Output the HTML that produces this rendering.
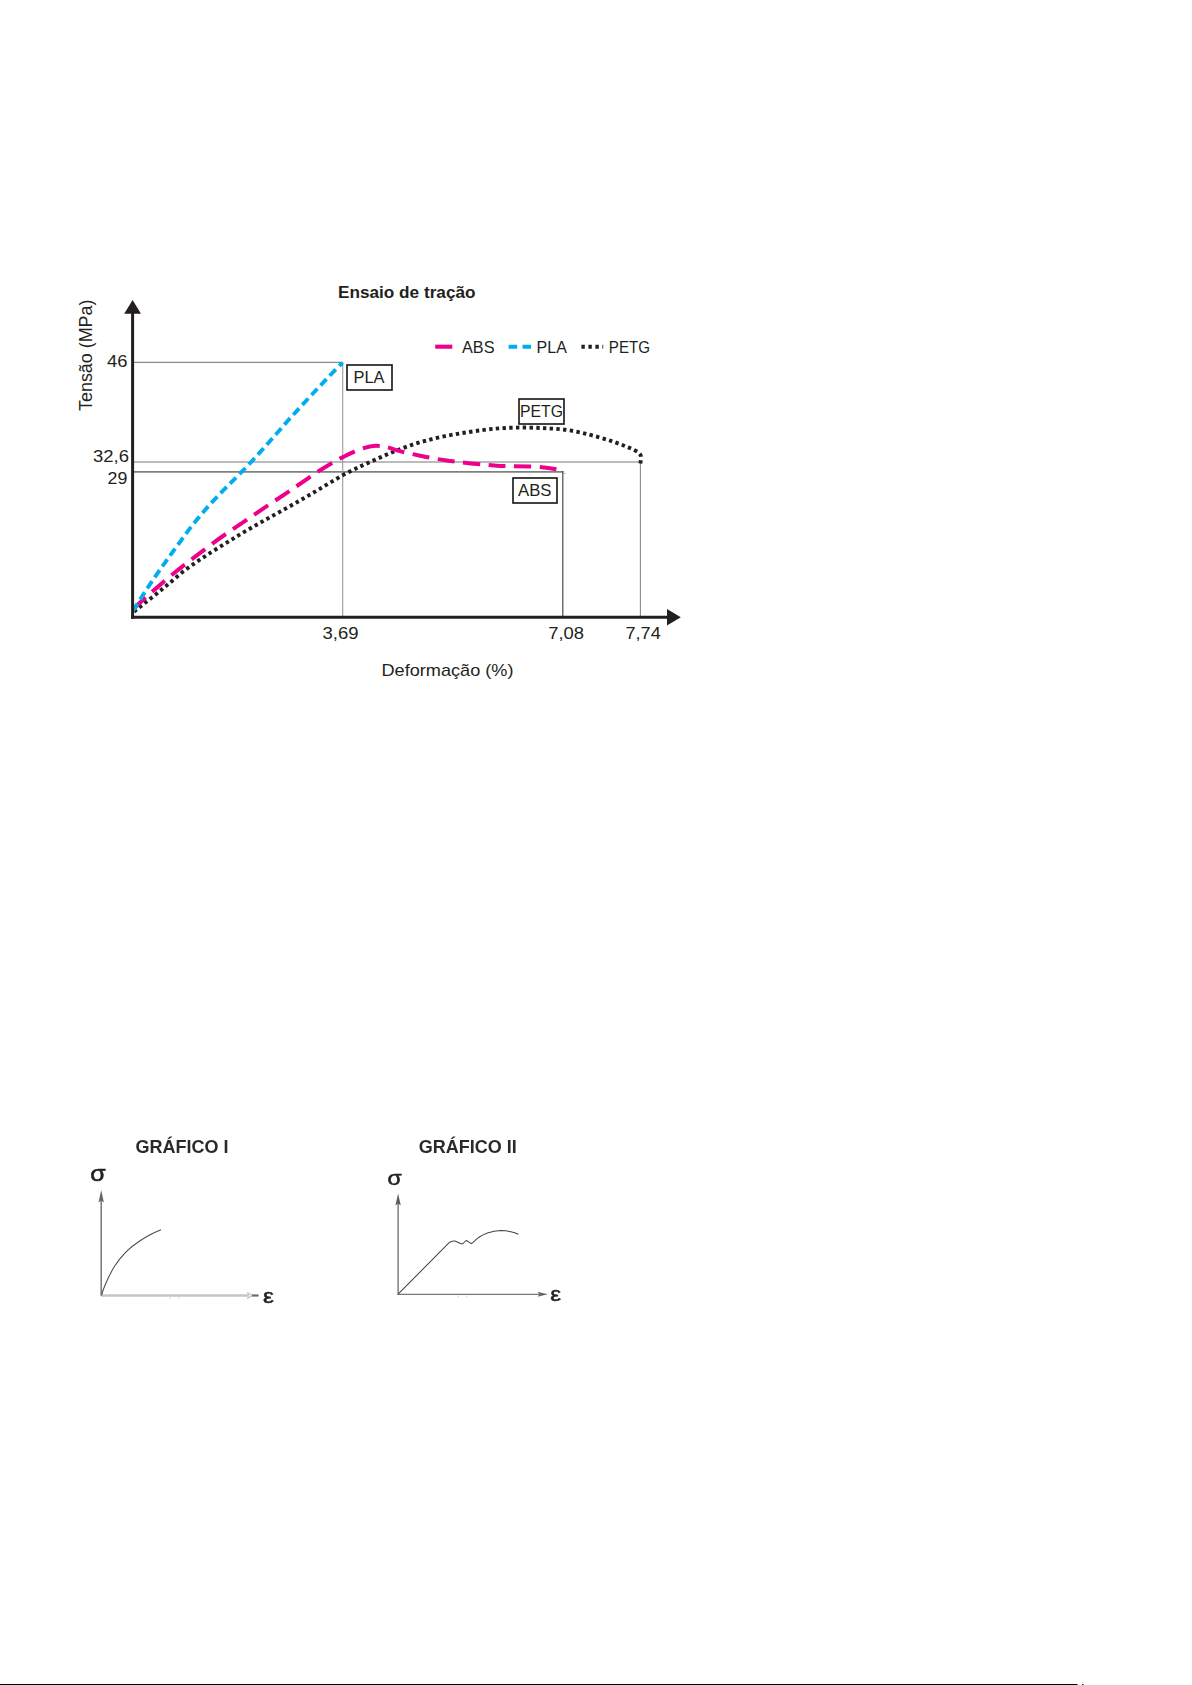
<!DOCTYPE html>
<html lang="pt">
<head>
<meta charset="utf-8">
<title>Ensaio de tração</title>
<style>
  html, body { margin: 0; padding: 0; background: #ffffff; }
  body { width: 1192px; height: 1685px; overflow: hidden; position: relative;
         font-family: "Liberation Sans", sans-serif; }
  svg { position: absolute; left: 0; top: 0; display: block; }
  text { font-family: "Liberation Sans", sans-serif; }
  .t { fill: #231f20; font-size: 17px; }
  .tb { fill: #231f20; font-size: 17px; font-weight: bold; }
  .g { fill: #2b2b2b; font-size: 18px; font-weight: bold; }
</style>
</head>
<body>
<svg width="1192" height="1685" viewBox="0 0 1192 1685">
  <defs>
    <filter id="soft" x="-5%" y="-5%" width="110%" height="110%">
      <feGaussianBlur stdDeviation="0.45"/>
    </filter>
  </defs>

  <!-- ===================== MAIN CHART ===================== -->
  <g id="main">
    <!-- thin guide lines -->
    <line x1="133" y1="362.4" x2="343" y2="362.4" stroke="#8a8a8a" stroke-width="1.1"/>
    <line x1="133" y1="462" x2="641" y2="462" stroke="#a3a5a8" stroke-width="1.5"/>
    <line x1="133" y1="471.8" x2="563.4" y2="471.8" stroke="#7e8083" stroke-width="1.7"/>
    <line x1="342.7" y1="362" x2="342.7" y2="617" stroke="#9a9a9a" stroke-width="1.1"/>
    <line x1="562.8" y1="471" x2="562.8" y2="617" stroke="#4a4a4a" stroke-width="1.2"/>
    <line x1="563.4" y1="473.3" x2="565.6" y2="473.7" stroke="#f17db8" stroke-width="0.9"/>
    <line x1="640.4" y1="462" x2="640.4" y2="617" stroke="#8a8a8a" stroke-width="1.1"/>

    <!-- curves -->
    <path id="petg" d="M134,611.6 C150,599 166.5,586 183.4,571.3 C202,557.5 222,545.5 240.8,534 C260,522.5 279,512.5 298.2,501.5 C313,493 328,484 343,475 C356,468 368,463 380.4,457.4 C390,453 400,449 410.6,445.3 C420,442 430,439.5 440.8,437 C451,434.8 461,433.2 471,431.7 C480,430.3 488,429.3 495.2,428.7 C506,427.8 517,427.4 527.8,427.6 C540,427.8 551,428.4 562.5,429.4 C571,430.4 580,432.2 588.2,434.4 C596,436.4 604,438.6 610.8,440.8 C617,443 623,445.2 628.9,447.6 C632,449 635.5,450.6 638,452.1 C640.4,453.8 641.3,456 641,458.1 C640.9,460 640.6,461.8 640.4,463.4"
          fill="none" stroke="#231f20" stroke-width="3.9" stroke-dasharray="3.4 3.339"/>
    <path id="abs" d="M133.4,609.2 C140,602.2 147.4,595.6 155.2,589.1 C164.5,581.2 174.5,572.2 185.4,564.1 C198.5,554.2 212.4,543.2 226,533.9 C240.2,524.2 254,514.8 268,505.3 C286,493.6 303,481.8 320,470.2 C328,465.5 335,461 343,457.1 C352,452.6 364,446.2 375.9,445.8 C383,445.6 389,447.6 395.5,449.8 C404,452.4 413,454.2 422.7,456.2 C431,458 440,459.6 448.4,460.7 C456,461.8 463,462.7 471,463.4 C481,464.4 490,465.2 499.7,466 C510,466.2 520,466.2 530.8,466.4 C540,466.8 548,467.6 556.4,469.2"
          fill="none" stroke="#ec008c" stroke-width="4" stroke-dasharray="17 8.568"/>
    <path id="pla" d="M132.9,611 C141.5,597 150,584 158.8,571.4 C166,561.4 173,551.3 180.8,540.9 C188,530.5 196,520.5 204.6,510.6 C218,494.8 233.3,480.8 248.3,465.1 C262,450.4 275,435.4 288.2,420.3 C305,402 322,383.5 341,364.1"
          fill="none" stroke="#00aeef" stroke-width="3.9" stroke-dasharray="8.66 4.72"/>
    <circle cx="341.2" cy="364" r="2.3" fill="#00aeef"/>

    <!-- axes -->
    <line x1="132.6" y1="312" x2="132.6" y2="618.7" stroke="#231f20" stroke-width="3"/>
    <line x1="131.1" y1="617.2" x2="668" y2="617.2" stroke="#231f20" stroke-width="3"/>
    <path d="M132.6,300 L141,313.8 L124.2,313.8 Z" fill="#231f20"/>
    <path d="M680.8,617.2 L667,609 L667,625.4 Z" fill="#231f20"/>

    <!-- label boxes -->
    <rect x="347" y="365" width="45" height="25" fill="#ffffff" stroke="#151314" stroke-width="1.6"/>
    <rect x="519" y="399" width="45" height="25" fill="#ffffff" stroke="#151314" stroke-width="1.6"/>
    <rect x="513" y="478" width="44" height="25" fill="#ffffff" stroke="#151314" stroke-width="1.6"/>

    <!-- texts -->
    <text class="tb" x="338" y="298" textLength="137.5" lengthAdjust="spacingAndGlyphs">Ensaio de tração</text>

    <line x1="435.2" y1="346.7" x2="452.3" y2="346.7" stroke="#ec008c" stroke-width="4.1"/>
    <text class="t" x="462" y="352.8" textLength="32.5" lengthAdjust="spacingAndGlyphs">ABS</text>
    <line x1="508.6" y1="346.7" x2="531" y2="346.7" stroke="#00aeef" stroke-width="4" stroke-dasharray="8.6 5.3"/>
    <text class="t" x="536.6" y="352.8" textLength="30.2" lengthAdjust="spacingAndGlyphs">PLA</text>
    <line x1="581.4" y1="346.7" x2="603.2" y2="346.7" stroke="#231f20" stroke-width="4" stroke-dasharray="3.4 3.6"/>
    <text class="t" x="608.8" y="352.8" textLength="41.2" lengthAdjust="spacingAndGlyphs">PETG</text>

    <text class="t" x="353.5" y="382.6" textLength="31" lengthAdjust="spacingAndGlyphs">PLA</text>
    <text class="t" x="520" y="417.4" textLength="43" lengthAdjust="spacingAndGlyphs">PETG</text>
    <text class="t" x="518" y="496.3" textLength="33.5" lengthAdjust="spacingAndGlyphs">ABS</text>

    <text class="t" x="107" y="367.4" textLength="20.5" lengthAdjust="spacingAndGlyphs">46</text>
    <text class="t" x="93" y="461.8" textLength="36" lengthAdjust="spacingAndGlyphs">32,6</text>
    <text class="t" x="107.6" y="484" textLength="19.8" lengthAdjust="spacingAndGlyphs">29</text>

    <text class="t" x="322.5" y="639" textLength="36" lengthAdjust="spacingAndGlyphs">3,69</text>
    <text class="t" x="548.2" y="639" textLength="35.8" lengthAdjust="spacingAndGlyphs">7,08</text>
    <text class="t" x="625.5" y="639" textLength="35.2" lengthAdjust="spacingAndGlyphs">7,74</text>

    <text class="t" x="381.5" y="675.6" textLength="132" lengthAdjust="spacingAndGlyphs">Deformação (%)</text>
    <text class="t" style="font-size:18.2px" transform="translate(91.9,411) rotate(-90)" x="0" y="0" textLength="111.5" lengthAdjust="spacingAndGlyphs">Tensão (MPa)</text>
  </g>

  <!-- ===================== SMALL GRAPHS ===================== -->
  <g id="small" filter="url(#soft)">
    <!-- Graph I -->
    <text class="g" x="135.5" y="1153" textLength="93" lengthAdjust="spacingAndGlyphs">GRÁFICO I</text>
    <text x="90.3" y="1181" font-size="22" fill="#222" stroke="#222" stroke-width="0.55" textLength="15.4" lengthAdjust="spacingAndGlyphs">σ</text>
    <line x1="101.2" y1="1196" x2="101.2" y2="1296" stroke="#777" stroke-width="1.5"/>
    <path d="M101.2,1190 L103.9,1202.5 L101.2,1200.5 L98.5,1202.5 Z" fill="#666"/>
    <line x1="101" y1="1295.5" x2="249" y2="1295.5" stroke="#c6c6c6" stroke-width="2.5"/>
    <path d="M247,1292.5 L252.5,1295.5 L247,1298.5" fill="none" stroke="#bdbdbd" stroke-width="1.1"/>
    <line x1="252" y1="1295.5" x2="258.5" y2="1295.5" stroke="#6a6a6a" stroke-width="2.2"/>
    <path d="M101.5,1295.4 C102.5,1291.5 103.8,1288 105.2,1284.8 C107.8,1278.5 110.8,1272.4 114.2,1266.7 C117.8,1261 121.8,1256.2 126.3,1251.6 C130.6,1247.4 135.4,1243.8 140.4,1240.5 C143.7,1238.4 147,1236.4 150.5,1234.5 C154,1232.8 157.4,1231.3 161,1229.8"
          fill="none" stroke="#4a4a4a" stroke-width="1.05"/>
    <rect x="169.2" y="1297" width="1.6" height="1.6" fill="#e2e2e2"/>
    <rect x="177.6" y="1297" width="2.2" height="1.4" fill="#e6e6e6"/>
    <text x="263" y="1302.7" font-size="20.5" fill="#222" stroke="#222" stroke-width="0.55" textLength="10.8" lengthAdjust="spacingAndGlyphs">ε</text>

    <!-- Graph II -->
    <text class="g" x="418.8" y="1153" textLength="98" lengthAdjust="spacingAndGlyphs">GRÁFICO II</text>
    <text x="387.6" y="1185.4" font-size="20" fill="#222" stroke="#222" stroke-width="0.5" textLength="14.2" lengthAdjust="spacingAndGlyphs">σ</text>
    <line x1="398.1" y1="1199" x2="398.1" y2="1295" stroke="#5a5a5a" stroke-width="1.15"/>
    <path d="M398.1,1193.5 L400.8,1205.5 L398.1,1203.5 L395.4,1205.5 Z" fill="#5c5c5c"/>
    <line x1="397.6" y1="1294.3" x2="540" y2="1294.3" stroke="#777" stroke-width="1.2"/>
    <path d="M547.8,1294.3 L537.5,1291.8 L539.5,1294.3 L537.5,1296.8 Z" fill="#666"/>
    <path d="M398.1,1294.2 L449.6,1242.2 C451.4,1241.4 453,1240.8 454.7,1241 C457.4,1241.6 459.8,1243.8 462.2,1243.9 C464,1243.4 465,1240.6 466.4,1240.5 C468,1240.8 469.6,1243.4 471.4,1243.6 C474,1241.6 476.4,1239.2 479,1237.2 C481.6,1235.5 484.4,1234.1 487.4,1233 C491.6,1231.6 496,1230.7 500.8,1230.5 C504.4,1230.5 507.6,1231 510.9,1231.8 C513.6,1232.4 516,1233.2 518.4,1234.2"
          fill="none" stroke="#444" stroke-width="1.05"/>
    <rect x="457.4" y="1295.8" width="1.4" height="1.6" fill="#dcdcdc"/>
    <rect x="465.6" y="1295.8" width="1.8" height="1.4" fill="#e0e0e0"/>
    <text x="550.3" y="1300.8" font-size="21" fill="#222" stroke="#222" stroke-width="0.5" textLength="10.8" lengthAdjust="spacingAndGlyphs">ε</text>
  </g>

  <!-- ===================== FOOTER RULE ===================== -->
  <rect x="0" y="1684" width="1077.5" height="1" fill="#000"/>
  <rect x="1082" y="1684" width="1.6" height="1" fill="#1a1a80"/>
</svg>
</body>
</html>
